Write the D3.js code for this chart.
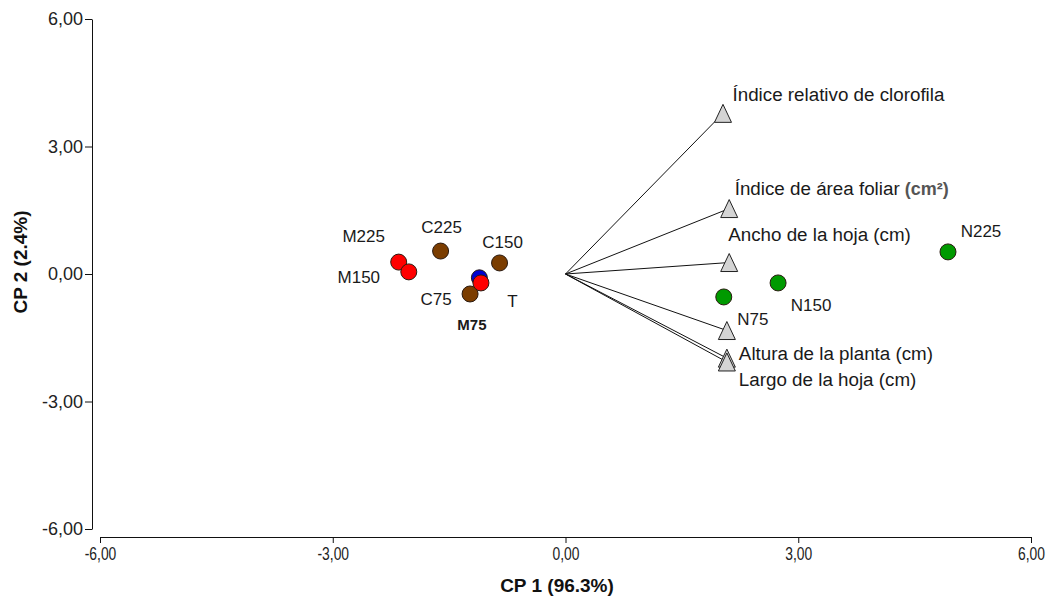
<!DOCTYPE html>
<html>
<head>
<meta charset="utf-8">
<script src="https://cdn.jsdelivr.net/npm/d3@7"></script>
<style>
  body { margin: 0; background: #ffffff; }
  text { font-family: "Liberation Sans", Arial, sans-serif; }
</style>
</head>
<body>
<svg id="chart" width="1052" height="598"></svg>
<script>
// Biplot: treatment scores and variable loadings on CP 1 / CP 2
const treatments = ["M225", "M150", "C225", "C150", "T", "M75", "C75", "N75", "N150", "N225"];
const groups     = ["M", "M", "C", "C", "T", "M", "C", "N", "N", "N"];
const scoreCp1   = [-2.15, -2.02, -1.61, -0.85, -1.11, -1.09, -1.23, 2.04, 2.74, 4.93];
const scoreCp2   = [0.28, 0.05, 0.54, 0.26, -0.09, -0.21, -0.47, -0.54, -0.21, 0.52];

const variables  = ["Índice relativo de clorofila", "Índice de área foliar", "Ancho de la hoja (cm)",
                    "Altura de la planta (cm)", "Largo de la hoja (cm)", ""];
const loadCp1    = [2.03, 2.11, 2.11, 2.08, 2.08, 2.08];
const loadCp2    = [3.78, 1.54, 0.27, -1.33, -1.98, -2.07];

const axisTicks  = [-6, -3, 0, 3, 6];
const xTitle = "CP 1 (96.3%)";
const yTitle = "CP 2 (2.4%)";

// Styling and label placement (pixels)
const groupColor = { M: "#ff0000", C: "#7b3d00", T: "#0000d0", N: "#009a00" };
const drawOrder = { C: 0, T: 1, M: 2, N: 3 };
const scoreLabelOffset = {
  M225: [-35, -26], M150: [-50, 5], C225: [1, -24], C150: [3, -21.5], T: [33, 23],
  M75: [-9, 42], C75: [-34, 5], N75: [29, 21.5], N150: [33, 21.5], N225: [33, -21.5]
};
const loadLabelOffset = [[9.5, -12.5], [5.5, -13.5], [-1, -22], [12, 29.5], [12, 27.7], [0, 0]];

const svg = d3.select("#chart");
const x = d3.scaleLinear().domain([-6, 6]).range([100, 1031]);
const y = d3.scaleLinear().domain([-6, 6]).range([529, 19]);
const fmt = v => d3.format(".2f")(v).replace(".", ",").replace("\u2212", "-");

// Axes
const gx = svg.append("g").attr("transform", "translate(0,537)")
  .call(d3.axisBottom(x).tickValues(axisTicks).tickFormat(fmt).tickSize(6).tickSizeOuter(0).tickPadding(4));
const gy = svg.append("g").attr("transform", "translate(92,0)")
  .call(d3.axisLeft(y).tickValues(axisTicks).tickFormat(fmt).tickSize(7).tickSizeOuter(0).tickPadding(2));
[gx, gy].forEach(g => {
  g.selectAll("path, line").attr("stroke", "#111").attr("stroke-width", 1);
  g.selectAll("text").attr("font-size", 18).attr("fill", "#222")
    .attr("font-family", "'Liberation Sans', Arial, sans-serif");
});
gx.selectAll("text").attr("transform", "scale(0.77,1)");

svg.append("text").attr("x", 557).attr("y", 592).attr("text-anchor", "middle")
  .attr("font-size", 19).attr("font-weight", "bold").attr("fill", "#111").text(xTitle);
svg.append("text").attr("transform", "translate(27,262) rotate(-90)").attr("text-anchor", "middle")
  .attr("font-size", 19).attr("font-weight", "bold").attr("fill", "#111").text(yTitle);

// Loading vectors
const loads = variables.map((v, i) => ({ name: v, a: loadCp1[i], b: loadCp2[i], off: loadLabelOffset[i] }));
svg.append("g").selectAll("line").data(loads).join("line")
  .attr("x1", x(0)).attr("y1", y(0))
  .attr("x2", d => x(d.a)).attr("y2", d => y(d.b))
  .attr("stroke", "#111").attr("stroke-width", 1);
svg.append("g").selectAll("path").data(loads).join("path")
  .attr("transform", d => `translate(${x(d.a)},${y(d.b)})`)
  .attr("d", "M0,-9L8.5,9L-8.5,9Z")
  .attr("fill", "#d4d4d4").attr("stroke", "#222").attr("stroke-width", 1);
const vl = svg.append("g").selectAll("text").data(loads.filter(d => d.name)).join("text")
  .attr("x", d => x(d.a) + d.off[0]).attr("y", d => y(d.b) + d.off[1])
  .attr("font-size", 18.8).attr("fill", "#1a1a1a")
  .text(d => d.name);
vl.filter(d => d.name === "Índice de área foliar").append("tspan")
  .attr("dx", 5).attr("font-weight", "bold").attr("fill", "#555").attr("font-size", 18).text("(cm²)");

// Treatment scores
const scores = treatments.map((t, i) => ({ name: t, g: groups[i], a: scoreCp1[i], b: scoreCp2[i] }))
  .sort((p, q) => drawOrder[p.g] - drawOrder[q.g]);
svg.append("g").selectAll("circle").data(scores).join("circle")
  .attr("cx", d => x(d.a)).attr("cy", d => y(d.b)).attr("r", 8)
  .attr("fill", d => groupColor[d.g]).attr("stroke", "#2a1a10").attr("stroke-width", 1);
svg.append("g").selectAll("text").data(scores).join("text")
  .attr("x", d => x(d.a) + scoreLabelOffset[d.name][0])
  .attr("y", d => y(d.b) + scoreLabelOffset[d.name][1])
  .attr("dy", "0.36em").attr("text-anchor", "middle")
  .attr("font-size", d => d.name === "M75" ? 15 : 17)
  .attr("font-weight", d => d.name === "M75" ? "bold" : "normal")
  .attr("fill", "#1a1a1a")
  .text(d => d.name);
</script>
</body>
</html>
